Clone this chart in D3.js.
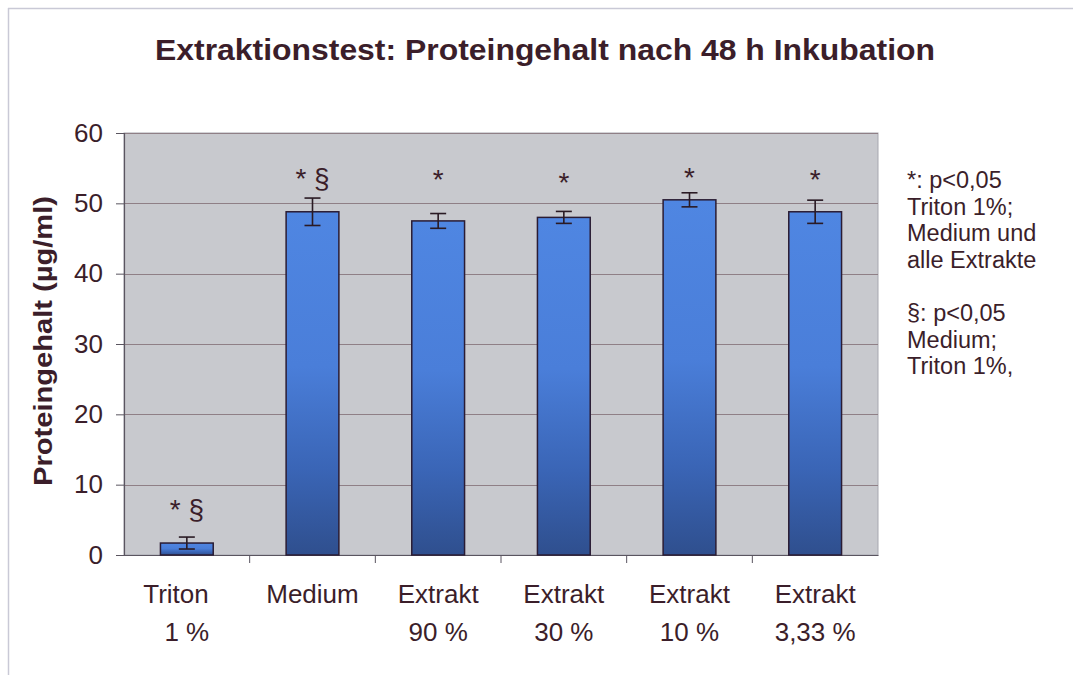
<!DOCTYPE html>
<html>
<head>
<meta charset="utf-8">
<script src="https://cdn.jsdelivr.net/npm/d3@7"></script>
<style>
  html, body { margin: 0; padding: 0; background: #fff; }
  svg { display: block; font-family: "Liberation Sans", Arial, sans-serif; }
</style>
</head>
<body>
<svg id="chart" width="1073" height="675"></svg>
<script>
// ---- data ----
const categories = ["Triton|1 %", "Medium", "Extrakt|90 %", "Extrakt|30 %", "Extrakt|10 %", "Extrakt|3,33 %"];
const means = [1.7, 48.8, 47.5, 48.0, 50.5, 48.8];
const errors = [0.85, 1.95, 1.05, 0.85, 1.0, 1.65];
const marks = ["* §", "* §", "*", "*", "*", "*"];
const markLevels = [5.1, 52.2, 52.0, 51.6, 52.3, 52.0];
const yTicks = [0, 10, 20, 30, 40, 50, 60];
const noteLines = ["*: p<0,05", "Triton 1%;", "Medium und", "alle Extrakte", "", "§: p<0,05", "Medium;", "Triton 1%,"];
const title = "Extraktionstest: Proteingehalt nach 48 h Inkubation";
const yTitle = "Proteingehalt (µg/ml)";

// ---- layout ----
const textColor = "#3b1e2a";
const plot = { left: 124, right: 878, top: 133, bottom: 555 };
const svg = d3.select("#chart");

const defs = svg.append("defs");
const grad = defs.append("linearGradient").attr("id", "barGrad")
  .attr("x1", 0).attr("y1", 0).attr("x2", 0).attr("y2", 1);
grad.append("stop").attr("offset", "0").attr("stop-color", "#4f86e2");
grad.append("stop").attr("offset", "0.45").attr("stop-color", "#4a7ed9");
grad.append("stop").attr("offset", "0.75").attr("stop-color", "#3a65b6");
grad.append("stop").attr("offset", "1").attr("stop-color", "#2f4f8e");

// outer frame (top & left visible)
svg.append("line").attr("x1", 8).attr("x2", 1073).attr("y1", 8.5).attr("y2", 8.5)
  .attr("stroke", "#c9c9d6").attr("stroke-width", 1.5);
svg.append("line").attr("x1", 8.5).attr("x2", 8.5).attr("y1", 8).attr("y2", 675)
  .attr("stroke", "#c9c9d6").attr("stroke-width", 1.5);

const x = d3.scaleBand().domain(categories).range([plot.left, plot.right]).paddingInner(0.58).paddingOuter(0.29);
const xb = d3.scaleBand().domain(categories).range([plot.left, plot.right]);
const y = d3.scaleLinear().domain([0, 60]).range([plot.bottom, plot.top]);

// plot background
svg.append("rect").attr("x", plot.left).attr("y", plot.top)
  .attr("width", plot.right - plot.left).attr("height", plot.bottom - plot.top)
  .attr("fill", "#c8c9ce").attr("stroke", "#a7a7b0").attr("stroke-width", 1);

// gridlines
svg.append("g").selectAll("line").data(yTicks.filter(d => d > 0)).join("line")
  .attr("x1", plot.left).attr("x2", plot.right)
  .attr("y1", d => Math.round(y(d)) + 0.5).attr("y2", d => Math.round(y(d)) + 0.5)
  .attr("stroke", "#8f7f86").attr("stroke-width", 1);

// y axis
const yAxis = svg.append("g").attr("transform", `translate(${plot.left},0)`)
  .call(d3.axisLeft(y).tickValues(yTicks).tickSize(8).tickPadding(13));
yAxis.select(".domain").attr("stroke", "#5a5560").attr("stroke-width", 1.2);
yAxis.selectAll(".tick line").attr("stroke", "#5a5560");
yAxis.selectAll(".tick text").attr("fill", textColor).attr("font-size", 26)
  .attr("font-family", "Liberation Sans, Arial, sans-serif");

// x axis
const xAxis = svg.append("g").attr("transform", `translate(0,${plot.bottom})`)
  .call(d3.axisBottom(xb).tickSize(0).tickFormat(""));
xAxis.select(".domain").attr("stroke", "#5a5560").attr("stroke-width", 1.2);
// category separator ticks
svg.append("g").selectAll("line").data(categories.slice(1)).join("line")
  .attr("x1", d => xb(d)).attr("x2", d => xb(d))
  .attr("y1", plot.bottom).attr("y2", plot.bottom + 8)
  .attr("stroke", "#5a5560").attr("stroke-width", 1);

// x labels
const xl = svg.append("g").selectAll("text").data(categories).join("text")
  .attr("x", d => xb(d) + xb.bandwidth() / 2)
  .attr("text-anchor", "middle").attr("fill", textColor).attr("font-size", 26);
xl.each(function(d, i) {
  const parts = d.split("|");
  const t = d3.select(this);
  parts.forEach((p, k) => {
    const txt = (i === 0 && k === 0) ? p + "\u00a0\u00a0\u00a0" : p;
    t.append("tspan").attr("x", xb(d) + xb.bandwidth() / 2)
      .attr("y", 603 + k * 38).text(txt);
  });
});

// bars
svg.append("g").selectAll("rect").data(categories).join("rect")
  .attr("x", d => x(d)).attr("width", x.bandwidth())
  .attr("y", (d, i) => y(means[i])).attr("height", (d, i) => y(0) - y(means[i]))
  .attr("fill", "url(#barGrad)").attr("stroke", "#2a1c34").attr("stroke-width", 1.5);

// error bars
const eb = svg.append("g").attr("stroke", "#2a1a24").attr("stroke-width", 1.6).attr("fill", "none");
categories.forEach((c, i) => {
  const cx = x(c) + x.bandwidth() / 2;
  const hi = y(means[i] + errors[i]), lo = y(means[i] - errors[i]);
  eb.append("line").attr("x1", cx).attr("x2", cx).attr("y1", hi).attr("y2", lo);
  eb.append("line").attr("x1", cx - 8).attr("x2", cx + 8).attr("y1", hi).attr("y2", hi);
  eb.append("line").attr("x1", cx - 8).attr("x2", cx + 8).attr("y1", lo).attr("y2", lo);
});

// significance marks
svg.append("g").selectAll("text").data(categories).join("text")
  .attr("x", d => xb(d) + xb.bandwidth() / 2)
  .attr("y", (d, i) => y(markLevels[i]))
  .attr("text-anchor", "middle").attr("fill", textColor).attr("font-size", 28)
  .text((d, i) => marks[i]);

// title
svg.append("text").attr("x", 545).attr("y", 60).attr("text-anchor", "middle")
  .attr("font-size", 30).attr("font-weight", "bold").attr("fill", textColor)
  .attr("textLength", 780).attr("lengthAdjust", "spacingAndGlyphs").text(title);

// y title
svg.append("text").attr("transform", "translate(52,341) rotate(-90)")
  .attr("text-anchor", "middle").attr("font-size", 26).attr("font-weight", "bold")
  .attr("fill", textColor).attr("textLength", 290).attr("lengthAdjust", "spacingAndGlyphs")
  .text(yTitle);

// notes
svg.append("g").selectAll("text").data(noteLines).join("text")
  .attr("x", 907).attr("y", (d, i) => 188 + i * 26.6)
  .attr("font-size", 23.5).attr("fill", textColor).text(d => d);
</script>
</body>
</html>
